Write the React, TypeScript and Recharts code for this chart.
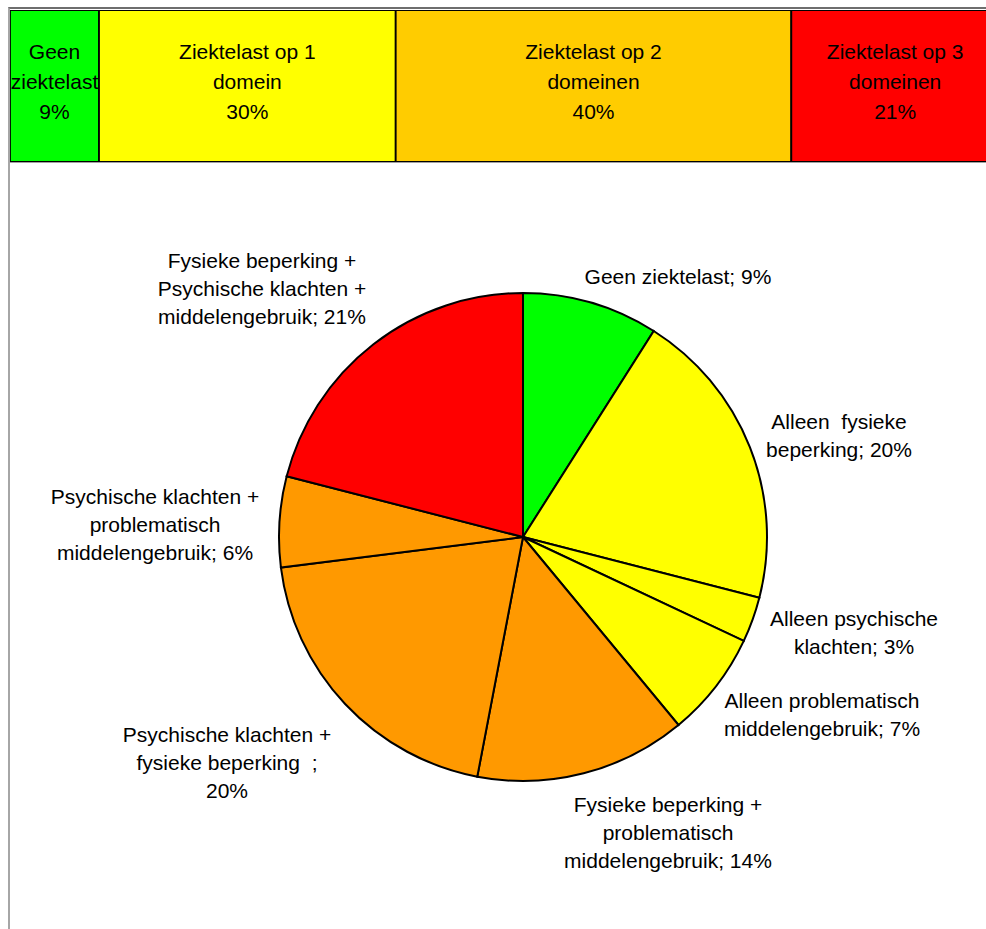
import React from 'react';
import { PieChart, Pie, Cell, BarChart, Bar, XAxis, YAxis, LabelList } from 'recharts';

const FONT = '"Liberation Sans", Arial, Helvetica, sans-serif';

// Top strip: share of people by number of domains with disease burden
const DOMAIN_KEYS = ['geen', 'een', 'twee', 'drie'];
const DOMAIN_LABELS = [
  ['Geen', 'ziektelast'],
  ['Ziektelast op 1', 'domein'],
  ['Ziektelast op 2', 'domeinen'],
  ['Ziektelast op 3', 'domeinen'],
];
const DOMAIN_VALUES = [9, 30, 40, 21];
const DOMAIN_COLORS = ['#00FF00', '#FFFF00', '#FFCC00', '#FF0000'];

// Pie: detailed combinations of domains
const PIE_NAMES = [
  'Geen ziektelast',
  'Alleen fysieke beperking',
  'Alleen psychische klachten',
  'Alleen problematisch middelengebruik',
  'Fysieke beperking + problematisch middelengebruik',
  'Psychische klachten + fysieke beperking',
  'Psychische klachten + problematisch middelengebruik',
  'Fysieke beperking + Psychische klachten + middelengebruik',
];
const PIE_VALUES = [9, 20, 3, 7, 14, 20, 6, 21];
const PIE_COLORS = ['#00FF00', '#FFFF00', '#FFFF00', '#FFFF00', '#FF9900', '#FF9900', '#FF9900', '#FF0000'];
const PIE_LABEL_LINES = [
  ['Geen ziektelast; {v}%'],
  ['Alleen  fysieke', 'beperking; {v}%'],
  ['Alleen psychische', 'klachten; {v}%'],
  ['Alleen problematisch', 'middelengebruik; {v}%'],
  ['Fysieke beperking +', 'problematisch', 'middelengebruik; {v}%'],
  ['Psychische klachten +', 'fysieke beperking  ;', '{v}%'],
  ['Psychische klachten +', 'problematisch', 'middelengebruik; {v}%'],
  ['Fysieke beperking +', 'Psychische klachten +', 'middelengebruik; {v}%'],
];

// Label block centres, relative to the pie centre
const LABEL_OFFSETS = [
  [155, -261],
  [316, -102],
  [331, 95],
  [299, 177],
  [145, 295],
  [-296, 225],
  [-368, -13],
  [-261, -249],
];

const FONT_SIZE = 21;
const PIE_LINE_HEIGHT = 28;
const BAR_LINE_HEIGHT = 30;

const barRow: Record<string, any> = { name: 'totaal' };
DOMAIN_KEYS.forEach((k, i) => {
  barRow[k] = DOMAIN_VALUES[i];
});
const barData = [barRow];

const pieData = PIE_NAMES.map((name, i) => ({ name, value: PIE_VALUES[i] }));

const renderPieLabel = (props: any) => {
  const { cx, cy, index } = props;
  const value = PIE_VALUES[index];
  const lines = PIE_LABEL_LINES[index].map((l) => l.replace('{v}', String(value)));
  const [dx, dy] = LABEL_OFFSETS[index];
  const x = cx + dx;
  const top = cy + dy - ((lines.length - 1) * PIE_LINE_HEIGHT) / 2;
  return (
    <g key={`pl-${index}`}>
      {lines.map((line, j) => (
        <text
          key={j}
          x={x}
          y={top + j * PIE_LINE_HEIGHT}
          textAnchor="middle"
          dominantBaseline="central"
          fontFamily={FONT}
          fontSize={FONT_SIZE}
          fill="#000"
          style={{ whiteSpace: 'pre' }}
        >
          {line}
        </text>
      ))}
    </g>
  );
};

const makeBarLabel = (seriesIndex: number) => (props: any) => {
  const { x, y, width, height, value } = props;
  const lines = [...DOMAIN_LABELS[seriesIndex], `${value}%`];
  const cxp = Number(x) + Number(width) / 2;
  const cyp = Number(y) + Number(height) / 2 - 5;
  const top = cyp - ((lines.length - 1) * BAR_LINE_HEIGHT) / 2;
  return (
    <g>
      {lines.map((line, j) => (
        <text
          key={j}
          x={cxp}
          y={top + j * BAR_LINE_HEIGHT}
          textAnchor="middle"
          dominantBaseline="central"
          fontFamily={FONT}
          fontSize={FONT_SIZE}
          fill="#000"
        >
          {line}
        </text>
      ))}
    </g>
  );
};

export default function App() {
  return (
    <div
      style={{
        position: 'fixed',
        left: 0,
        top: 0,
        width: 986,
        height: 929,
        overflow: 'hidden',
        background: '#fff',
        fontFamily: FONT,
      }}
    >
      <div
        style={{
          position: 'absolute',
          left: 8,
          top: 7,
          width: 1000,
          height: 940,
          borderTop: '2px solid #6e6e6e',
          borderLeft: '2px solid #a6a6a6',
          boxSizing: 'border-box',
        }}
      />
      <div style={{ position: 'absolute', left: 0, top: 0 }}>
        <PieChart width={986} height={929} margin={{ top: 0, right: 0, bottom: 0, left: 0 }}>
          <Pie
            data={pieData}
            dataKey="value"
            nameKey="name"
            cx={523}
            cy={537}
            outerRadius={244}
            startAngle={90}
            endAngle={-270}
            stroke="#000"
            strokeWidth={2}
            label={renderPieLabel}
            labelLine={false}
            isAnimationActive={false}
          >
            {pieData.map((_, i) => (
              <Cell key={i} fill={PIE_COLORS[i]} />
            ))}
          </Pie>
        </PieChart>
      </div>
      <div style={{ position: 'absolute', left: 10, top: 10 }}>
        <BarChart
          width={989}
          height={152}
          data={barData}
          layout="vertical"
          barCategoryGap={0}
          margin={{ top: 0, right: 0, bottom: 0, left: 0 }}
        >
          <XAxis type="number" domain={[0, 100]} hide />
          <YAxis type="category" dataKey="name" hide />
          {DOMAIN_KEYS.map((k, i) => (
            <Bar
              key={k}
              dataKey={k}
              stackId="domeinen"
              fill={DOMAIN_COLORS[i]}
              stroke="#000"
              strokeWidth={1.8}
              isAnimationActive={false}
            >
              <LabelList dataKey={k} content={makeBarLabel(i)} />
            </Bar>
          ))}
        </BarChart>
      </div>
      <div
        style={{
          position: 'absolute',
          left: 10,
          top: 162,
          width: 980,
          height: 0,
          borderTop: '1px solid #a0a0a0',
        }}
      />
    </div>
  );
}
